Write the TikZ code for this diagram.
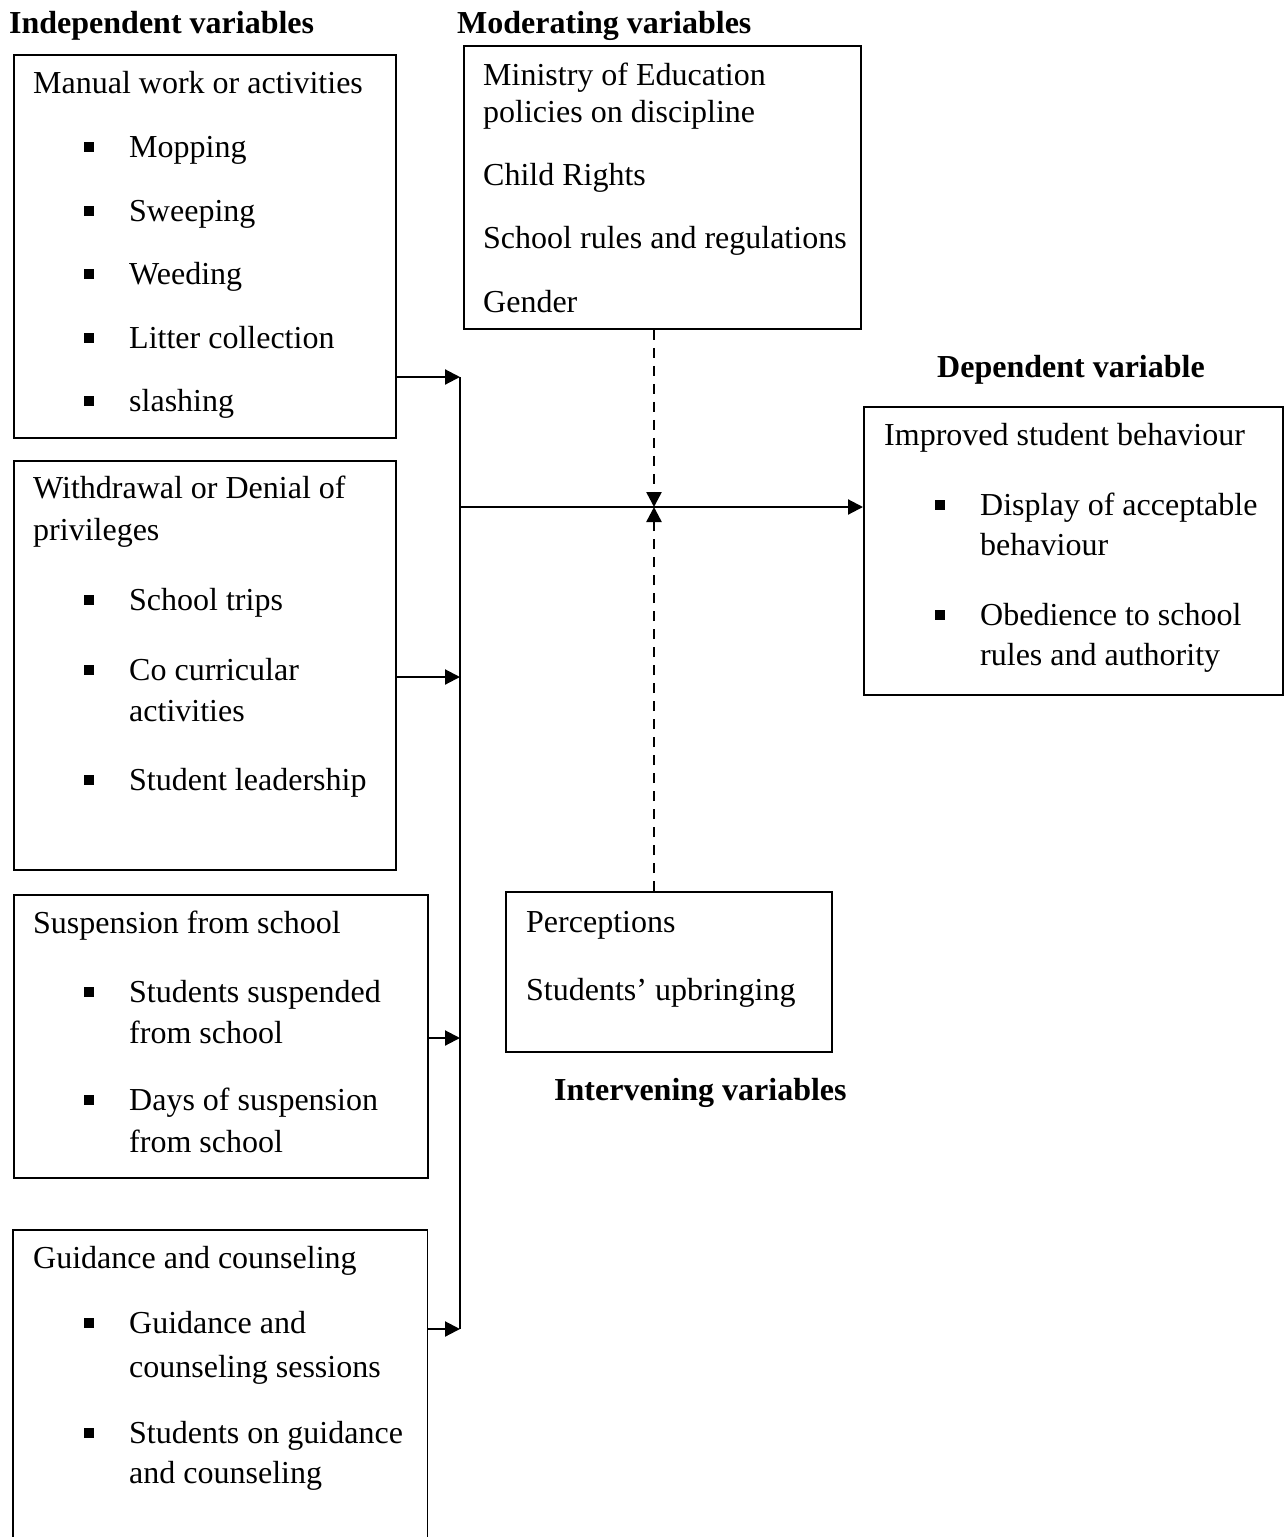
\documentclass[tikz,border=0pt]{standalone}
\usepackage{fontspec}
\setmainfont{Liberation Serif}
\usetikzlibrary{arrows.meta}
\newcommand{\mytxt}[4]{\node[txt] (#1) at (#2,#3) {#4};}
\newcommand{\mybul}[3]{\node[bulsq] (#1) at (#2,#3-10) {};}
\begin{document}
\begin{tikzpicture}[x=1pt,y=-1pt,
  txt/.style={anchor=base west, inner sep=0pt, font=\fontsize{32}{38}\selectfont},
  head/.style={anchor=base west, inner sep=0pt, font=\fontsize{32}{38}\selectfont\bfseries},
  bulsq/.style={fill=black, rectangle, minimum size=10pt, inner sep=0pt},
  box/.style={draw=black, line width=1.8pt, rectangle, anchor=north west, inner sep=0pt},
  openbox/.style={rectangle, anchor=north west, inner sep=0pt},
  arr/.style={line width=2.1pt, -{Triangle[length=15pt,width=15pt]}},
  spine/.style={line width=2.1pt},
  darr/.style={line width=2.5pt, dash pattern=on 10pt off 8pt, -{Triangle[length=15pt,width=15pt]}}]
\fill[white] (0,0) rectangle (1286,1537);
\useasboundingbox (0,0) rectangle (1286,1537);

% headings
\node[head] (hInd) at (9,33) {Independent variables};
\node[head] (hMod) at (457,33) {Moderating variables};
\node[head] (hDep) at (937,377) {Dependent variable};
\node[head] (hInt) at (554,1100) {Intervening variables};

% boxes
\node[box, minimum width=382pt, minimum height=383pt] (b1) at (13,54) {};
\node[box, minimum width=382pt, minimum height=409pt] (b2) at (13,460) {};
\node[box, minimum width=414pt, minimum height=283pt] (b3) at (13,894) {};
\node[openbox, minimum width=414pt, minimum height=320pt] (b4) at (13,1230) {};
\draw[line width=1.8pt] (b4.south west) -- (b4.north west) -- (b4.north east) -- (b4.south east);
\node[box, minimum width=397pt, minimum height=283pt] (mod) at (463,45) {};
\node[box, minimum width=419pt, minimum height=288pt] (dep) at (863,406) {};
\node[box, minimum width=326pt, minimum height=160pt] (int) at (505,891) {};

% box 1
\mytxt{t11}{33}{93}{Manual work or activities}
\mybul{u11}{89}{157}\mytxt{t12}{129}{157}{Mopping}
\mybul{u12}{89}{221}\mytxt{t13}{129}{221}{Sweeping}
\mybul{u13}{89}{284}\mytxt{t14}{129}{284}{Weeding}
\mybul{u14}{89}{348}\mytxt{t15}{129}{348}{Litter collection}
\mybul{u15}{89}{411}\mytxt{t16}{129}{411}{slashing}

% box 2
\mytxt{t21}{33}{498}{Withdrawal or Denial of}
\mytxt{t22}{33}{540}{privileges}
\mybul{u21}{89}{610}\mytxt{t23}{129}{610}{School trips}
\mybul{u22}{89}{680}\mytxt{t24}{129}{680}{Co curricular}
\mytxt{t25}{129}{721}{activities}
\mybul{u23}{89}{790}\mytxt{t26}{129}{790}{Student leadership}

% box 3
\mytxt{t31}{33}{933}{Suspension from school}
\mybul{u31}{89}{1002}\mytxt{t32}{129}{1002}{Students suspended}
\mytxt{t33}{129}{1043}{from school}
\mybul{u32}{89}{1110}\mytxt{t34}{129}{1110}{Days of suspension}
\mytxt{t35}{129}{1152}{from school}

% box 4
\mytxt{t41}{33}{1268}{Guidance and counseling}
\mybul{u41}{89}{1333}\mytxt{t42}{129}{1333}{Guidance and}
\mytxt{t43}{129}{1377}{counseling sessions}
\mybul{u42}{89}{1443}\mytxt{t44}{129}{1443}{Students on guidance}
\mytxt{t45}{129}{1483}{and counseling}

% moderating
\mytxt{m1}{483}{85}{Ministry of Education}
\mytxt{m2}{483}{122}{policies on discipline}
\mytxt{m3}{483}{185}{Child Rights}
\mytxt{m4}{483}{248}{School rules and regulations}
\mytxt{m5}{483}{312}{Gender}

% dependent
\mytxt{d1}{884}{445}{Improved student behaviour}
\mybul{v1}{940}{515}\mytxt{d2}{980}{515}{Display of acceptable}
\mytxt{d3}{980}{555}{behaviour}
\mybul{v2}{940}{625}\mytxt{d4}{980}{625}{Obedience to school}
\mytxt{d5}{980}{665}{rules and authority}

% intervening
\mytxt{i1}{526}{932}{Perceptions}
\mytxt{i2}{526}{1000}{Students’ upbringing}

% connectors
\coordinate (s1) at (460,377);
\coordinate (s2) at (460,677);
\coordinate (s3) at (460,1038);
\coordinate (s4) at (460,1329);
\coordinate (jn) at (460,507);
\coordinate (mid) at (654,507);

\draw[spine] (s1) -- (s4);
\draw[arr] (b1.east |- s1) -- (s1);
\draw[arr] (b2.east |- s2) -- (s2);
\draw[arr] (b3.east |- s3) -- (s3);
\draw[arr] (b4.east |- s4) -- (s4);
\draw[arr] (jn) -- (dep.west |- jn);
\draw[darr] (mid |- mod.south) -- (mid);
\draw[darr] (mid |- int.north) -- (mid);
\end{tikzpicture}
\end{document}
